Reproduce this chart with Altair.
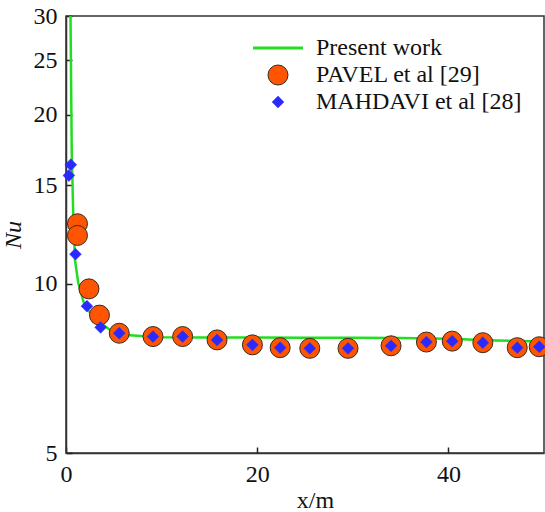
import altair as alt
import pandas as pd

# Present work (line)
line_x = [0.47, 0.6, 0.76, 0.94, 1.28, 1.98, 3.2, 4.6, 6.3, 9.8, 15, 20, 25, 30, 35, 40, 45, 50]
line_nu = [30, 17.3, 13.2, 11.03, 10.04, 9.11, 8.63, 8.28, 8.11, 8.04, 8.03, 8.03, 8.02, 8.02, 8.01, 7.99, 7.93, 7.90]

# PAVEL et al [29]
pavel_x = [1.2, 1.2, 2.4, 3.5, 5.57, 9.1, 12.2, 15.8, 19.5, 22.4, 25.5, 29.5, 34.0, 37.7, 40.4, 43.6, 47.2, 49.5]
pavel_nu = [12.8, 12.2, 9.8, 8.8, 8.17, 8.06, 8.06, 7.95, 7.79, 7.70, 7.68, 7.68, 7.76, 7.88, 7.91, 7.86, 7.70, 7.73]

# MAHDAVI et al [28]
mahdavi_x = [0.5, 0.3, 0.99, 2.19, 3.62, 5.57, 9.1, 12.2, 15.8, 19.5, 22.4, 25.5, 29.5, 34.0, 37.7, 40.4, 43.6, 47.2, 49.5]
mahdavi_nu = [16.3, 15.6, 11.3, 9.13, 8.37, 8.17, 8.06, 8.06, 7.95, 7.79, 7.70, 7.68, 7.68, 7.76, 7.88, 7.91, 7.86, 7.70, 7.73]

series_names = ["Present work", "PAVEL et al [29]", "MAHDAVI et al [28]"]
fill_colors = ["#22dd22", "#ff5500", "#2a2aff"]
stroke_colors = ["#22dd22", "#3a2a22", "#2a2aff"]
stroke_widths = [3, 1, 0.5]
shapes = ["M-5,0H5", "circle", "diamond"]
sizes = [100, 400, 140]

y_ticks = [5, 10, 15, 20, 25, 30]
x_ticks = [0, 20, 40]

FONT = "Liberation Serif"
W, H = 478, 437

line_df = pd.DataFrame({"x": line_x, "Nu": line_nu})
pts_df = pd.concat([
    pd.DataFrame({"x": pavel_x, "Nu": pavel_nu, "series": series_names[1], "order": 0}),
    pd.DataFrame({"x": mahdavi_x, "Nu": mahdavi_nu, "series": series_names[2], "order": 1}),
], ignore_index=True)

xs = alt.Scale(domain=[0, 50], nice=False, zero=False)
ys = alt.Scale(type="log", domain=[5, 30], nice=False, zero=False)

line = alt.Chart(line_df).mark_line(color="#22dd22", strokeWidth=2.5, clip=True).encode(
    x=alt.X("x:Q", scale=xs, axis=alt.Axis(values=x_ticks, title="x/m", grid=False, ticks=False,
                                           labelPadding=9, labelFlush=False, titlePadding=2,
                                           titleX=249, titleAnchor="middle")),
    y=alt.Y("Nu:Q", scale=ys, axis=alt.Axis(values=y_ticks, title="Nu", grid=False, ticks=False,
                                            labelPadding=9, labelFlush=False, titlePadding=8,
                                            titleFontStyle="italic")),
    order="x:Q",
)

# inward tick marks drawn by mirrored axes
ticks_layer = alt.Chart(line_df).mark_line(opacity=0).encode(
    x=alt.X("x:Q", scale=xs, axis=alt.Axis(values=x_ticks, orient="top", offset=-H, labels=False,
                                           domain=False, grid=False, title=None, tickSize=6)),
    y=alt.Y("Nu:Q", scale=ys, axis=alt.Axis(values=y_ticks, orient="right", offset=-W, labels=False,
                                            domain=False, grid=False, title=None, tickSize=6)),
)

leg = alt.Legend(title=None, orient="none", legendX=200, legendY=20)

points = alt.Chart(pts_df).mark_point(filled=True, opacity=1).encode(
    x=alt.X("x:Q", scale=xs, axis=None),
    y=alt.Y("Nu:Q", scale=ys, axis=None),
    fill=alt.Fill("series:N", scale=alt.Scale(domain=series_names, range=fill_colors), legend=leg),
    stroke=alt.Stroke("series:N", scale=alt.Scale(domain=series_names, range=stroke_colors), legend=leg),
    strokeWidth=alt.StrokeWidth("series:N", scale=alt.Scale(type="ordinal", domain=series_names, range=stroke_widths), legend=leg),
    shape=alt.Shape("series:N", scale=alt.Scale(domain=series_names, range=shapes), legend=leg),
    size=alt.Size("series:N", scale=alt.Scale(type="ordinal", domain=series_names, range=sizes), legend=leg),
    order=alt.Order("order:Q"),
)

chart = alt.layer(line, points, ticks_layer).resolve_axis(
    x="independent", y="independent"
).properties(
    width=W, height=H,
    background="white",
    autosize=alt.AutoSizeParams(type="none"),
    padding={"left": 66, "top": 16, "right": 1, "bottom": 59},
).configure_view(stroke="#333", strokeWidth=1.5).configure_axis(
    labelFont=FONT, labelFontSize=24, labelColor="#111",
    titleFont=FONT, titleFontSize=24, titleColor="#111", titleFontWeight="normal",
    domainColor="#333", domainWidth=1.5, tickColor="#222", tickWidth=1.5,
).configure_legend(
    labelFont=FONT, labelFontSize=24, labelColor="#111", labelLimit=400,
    labelOffset=26, rowPadding=3, padding=0, symbolOpacity=1,
)

chart.save("out.html", embed_options={"renderer": "svg", "actions": False})
